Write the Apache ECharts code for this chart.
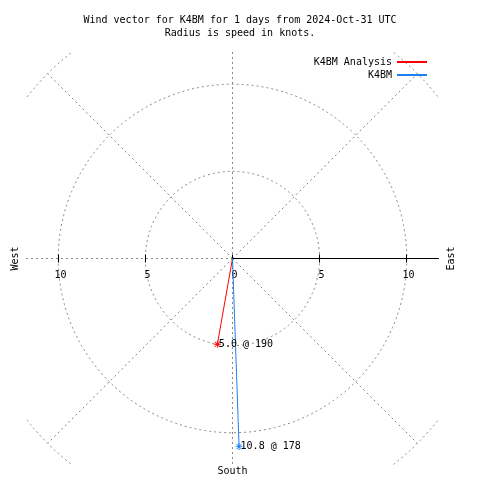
<!DOCTYPE html>
<html><head><meta charset="utf-8">
<script src="https://cdn.jsdelivr.net/npm/echarts@6/dist/echarts.min.js"></script>
<style>html,body{margin:0;padding:0;background:#fff}#c{width:480px;height:480px}</style>
</head><body><div id="c"></div>
<script>
const titleLines = ['Wind vector for K4BM for 1 days from 2024-Oct-31 UTC', 'Radius is speed in knots.'];
const seriesNames = ['K4BM Analysis', 'K4BM'];
const seriesColors = ['#ff0000', '#1e80f0'];
const speeds = [5.0, 10.8];
const directions = [190, 178];
const ringRadii = [5, 10, 15];
const spokeAngles = [45, 135, 225, 315];
const westTicks = [10, 5];
const eastTicks = [0, 5, 10];
const compassLabels = ['West', 'East', 'South'];
const axisExtent = 11.85;

const FONT = '10px "DejaVu Sans Mono", "Liberation Mono", monospace';
const FAMILY = '"DejaVu Sans Mono", "Liberation Mono", monospace';
const STAR = 'path://M-0.5,-4L0.5,-4L0.5,4L-0.5,4ZM-4,-0.5L4,-0.5L4,0.5L-4,0.5ZM-3.35,-2.65L-2.65,-3.35L3.35,2.65L2.65,3.35ZM2.65,-3.35L3.35,-2.65L-2.65,3.35L-3.35,2.65Z';

const crisp = v => Math.round(v - 0.5) + 0.5;

function gridItem(params, api) {
  const c = api.coord([0, 0]).map(crisp);
  const cs = params.coordSys;
  const dash = { stroke: '#888', lineWidth: 1, lineDash: [2, 3], fill: 'none' };
  const children = [];
  ringRadii.forEach(r => {
    children.push({ type: 'circle', shape: { cx: c[0], cy: c[1], r: api.size([r, 0])[0] }, style: dash });
  });
  const R = ringRadii[ringRadii.length - 1];
  spokeAngles.forEach(a => {
    const rad = a * Math.PI / 180;
    const p = api.coord([R * Math.sin(rad), R * Math.cos(rad)]);
    children.push({ type: 'line', shape: { x1: c[0], y1: c[1], x2: p[0], y2: p[1] }, style: dash });
  });
  children.push({ type: 'line', shape: { x1: c[0], y1: cs.y, x2: c[0], y2: cs.y + cs.height }, style: dash });
  children.push({ type: 'line', shape: { x1: cs.x, y1: c[1], x2: c[0], y2: c[1] }, style: dash });
  return { type: 'group', children };
}

function axisItem(params, api) {
  const c = api.coord([0, 0]).map(crisp);
  const cs = params.coordSys;
  const children = [];
  children.push({ type: 'line', shape: { x1: c[0], y1: c[1], x2: cs.x + cs.width, y2: c[1] }, style: { stroke: '#000', lineWidth: 1 } });
  const ticks = westTicks.map(v => [-v, String(v)]).concat(eastTicks.map(v => [v, String(v)]));
  ticks.forEach(([v, t]) => {
    const x = crisp(api.coord([v, 0])[0]);
    children.push({ type: 'line', shape: { x1: x, y1: c[1] - 4, x2: x, y2: c[1] + 4 }, style: { stroke: '#000', lineWidth: 1 } });
    children.push({ type: 'text', x: x + 2, y: c[1] + 17, style: { text: t, font: FONT, fill: '#000', align: 'center', verticalAlign: 'middle' } });
  });
  children.push({ type: 'text', x: cs.x - 11, y: c[1], rotation: Math.PI / 2, style: { text: compassLabels[0], font: FONT, fill: '#000', align: 'center', verticalAlign: 'middle' } });
  children.push({ type: 'text', x: cs.x + cs.width + 12, y: c[1], rotation: Math.PI / 2, style: { text: compassLabels[1], font: FONT, fill: '#000', align: 'center', verticalAlign: 'middle' } });
  children.push({ type: 'text', x: c[0], y: cs.y + cs.height + 6, style: { text: compassLabels[2], font: FONT, fill: '#000', align: 'center', verticalAlign: 'middle' } });
  return { type: 'group', children };
}

const vectorSeries = seriesNames.map((name, i) => {
  const rad = directions[i] * Math.PI / 180;
  const end = [speeds[i] * Math.sin(rad), speeds[i] * Math.cos(rad)];
  return {
    type: 'line', name, color: seriesColors[i], z: 5,
    lineStyle: { width: 1, color: seriesColors[i] },
    itemStyle: { color: seriesColors[i] },
    emphasis: { disabled: true },
    data: [
      { value: [0, 0], symbol: 'none' },
      { value: end, symbol: STAR, symbolSize: 7,
        label: { show: true, position: 'right', distance: -2, color: '#000', fontFamily: FAMILY, fontSize: 10,
          formatter: speeds[i].toFixed(1) + ' @ ' + directions[i] } }
    ]
  };
});

const legendBase = {
  right: 53, padding: 0, icon: 'rect', itemWidth: 30, itemHeight: 2, align: 'right',
  textStyle: { fontFamily: FAMILY, fontSize: 10, color: '#000', lineHeight: 12 }, selectedMode: false
};

const chart = echarts.init(document.getElementById('c'), null, { renderer: 'canvas' });
chart.setOption({
  animation: false,
  backgroundColor: '#fff',
  title: { text: titleLines.join('\n'), left: 'center', top: 14, padding: 0,
    textStyle: { fontFamily: FAMILY, fontSize: 10, fontWeight: 'normal', color: '#000', lineHeight: 13 } },
  legend: seriesNames.map((name, i) => Object.assign({}, legendBase, {
    top: 56 + 13 * i,
    data: [{ name, itemStyle: { color: seriesColors[i], borderWidth: 0 } }]
  })),
  grid: { left: 26, top: 52, width: 413, height: 413, containLabel: false },
  xAxis: { type: 'value', min: -axisExtent, max: axisExtent, show: false },
  yAxis: { type: 'value', min: -axisExtent, max: axisExtent, show: false },
  series: [
    { type: 'custom', name: 'grid', renderItem: gridItem, data: [0], clip: true, silent: true, z: 1 },
    { type: 'custom', name: 'axis', renderItem: axisItem, data: [0], clip: false, silent: true, z: 2 }
  ].concat(vectorSeries)
});
</script></body></html>
